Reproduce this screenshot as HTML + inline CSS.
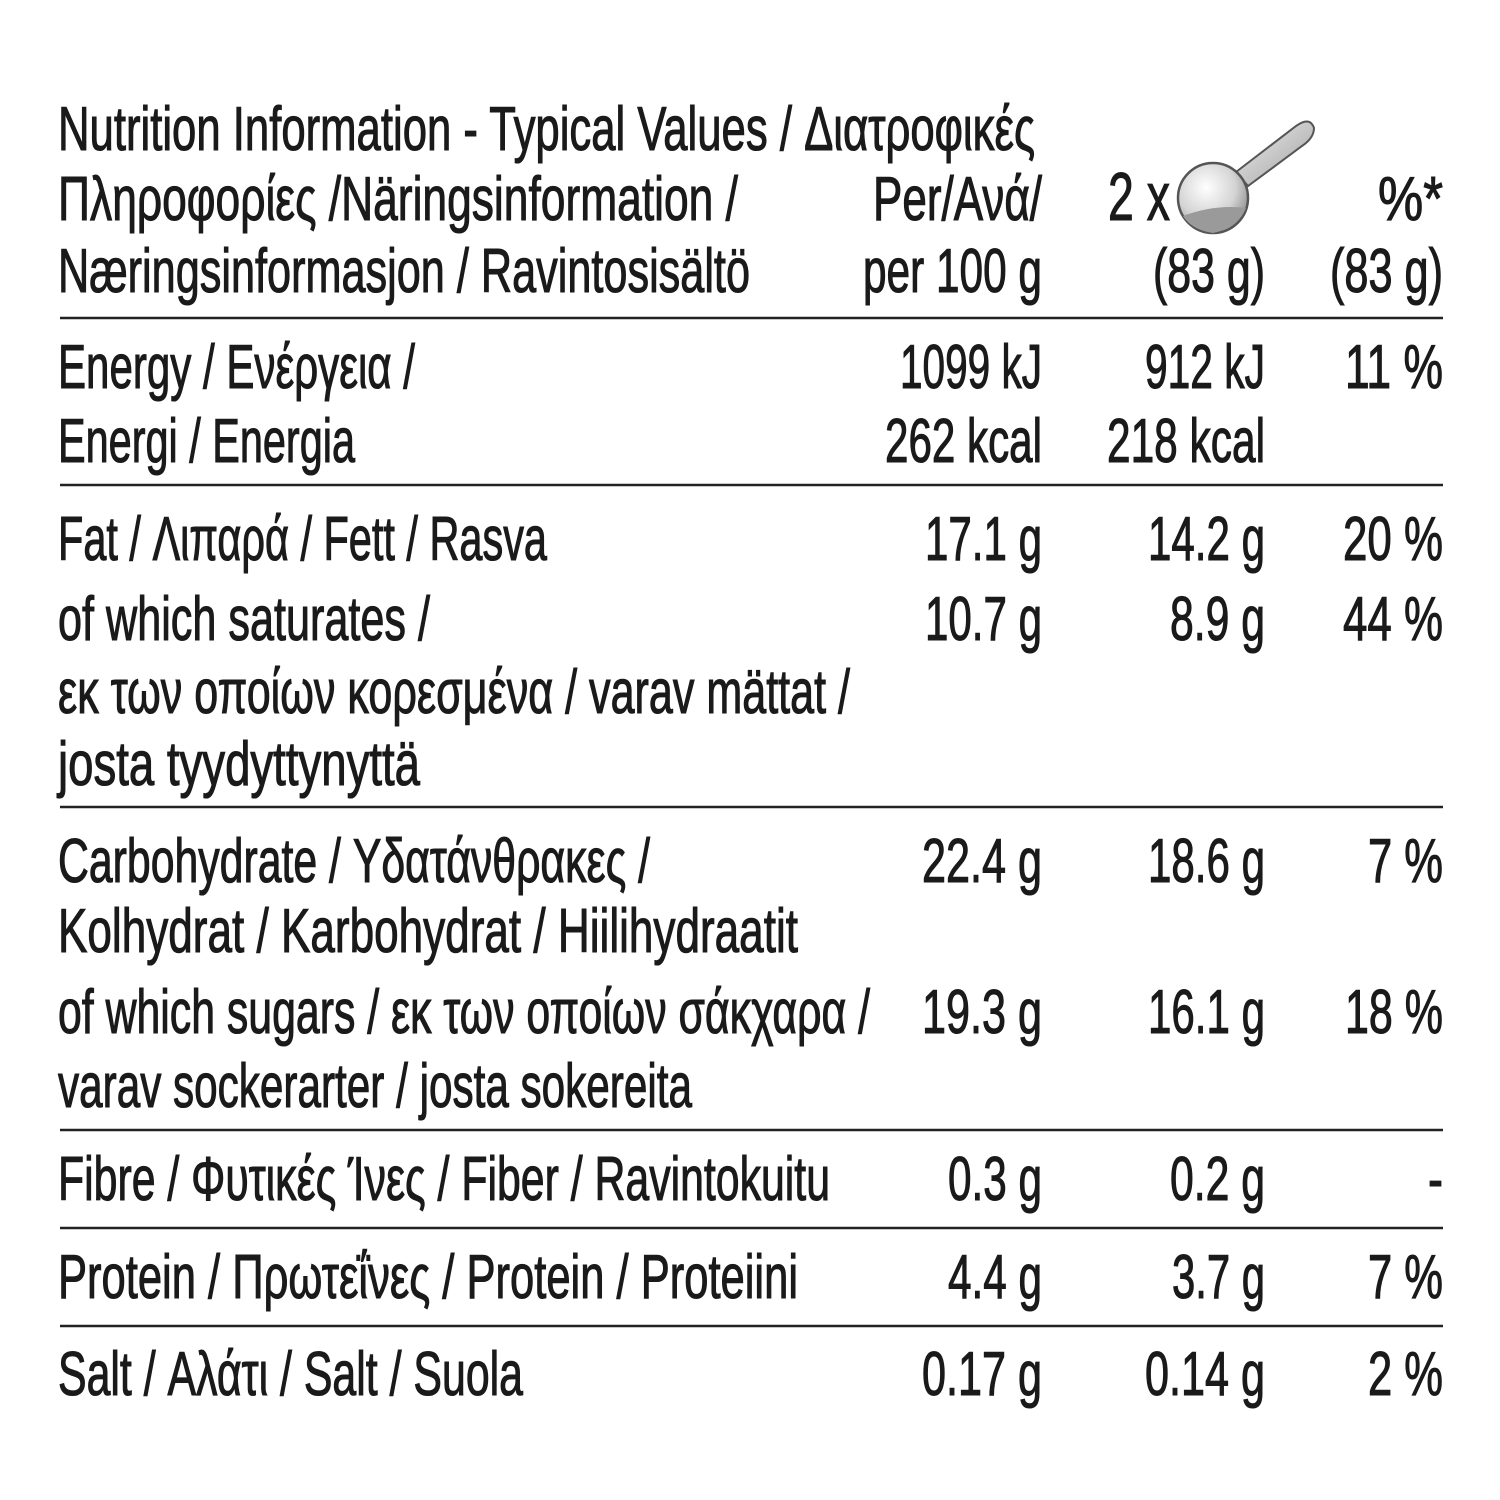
<!DOCTYPE html>
<html><head><meta charset="utf-8"><style>html,body{margin:0;padding:0;background:#fff}svg{display:block}</style></head>
<body>
<svg width="1500" height="1500" viewBox="0 0 1500 1500" xmlns="http://www.w3.org/2000/svg">
<defs>
<radialGradient id="bowl" cx="0.4" cy="0.35" r="0.7">
<stop offset="0" stop-color="#ffffff"/><stop offset="0.6" stop-color="#d4d4d4"/><stop offset="1" stop-color="#8a8a8a"/>
</radialGradient>
<linearGradient id="hnd" x1="0" y1="0" x2="1" y2="1"><stop offset="0" stop-color="#eeeeee"/><stop offset="1" stop-color="#a0a0a0"/></linearGradient>
</defs>
<g font-family="'Liberation Sans','DejaVu Sans',sans-serif" font-size="62" fill="#1a1a1a" stroke="#1a1a1a" stroke-width="1.1">
<text x="58" y="150" textLength="977" lengthAdjust="spacingAndGlyphs">Nutrition Information - Typical Values / Διατροφικές</text>
<text x="58" y="220" textLength="680" lengthAdjust="spacingAndGlyphs">Πληροφορίες /Näringsinformation /</text>
<text x="58" y="292" textLength="692" lengthAdjust="spacingAndGlyphs">Næringsinformasjon / Ravintosisältö</text>
<text x="873" y="220" textLength="169" lengthAdjust="spacingAndGlyphs">Per/Ανά/</text>
<text x="863" y="292" textLength="179" lengthAdjust="spacingAndGlyphs">per 100 g</text>
<text x="1108" y="220" textLength="62" lengthAdjust="spacingAndGlyphs" font-size="68">2 x</text>
<text x="1378" y="220" textLength="65" lengthAdjust="spacingAndGlyphs">%*</text>
<text x="1153" y="292" textLength="112" lengthAdjust="spacingAndGlyphs">(83 g)</text>
<text x="1330" y="292" textLength="113" lengthAdjust="spacingAndGlyphs">(83 g)</text>

<text x="58" y="388" textLength="357" lengthAdjust="spacingAndGlyphs">Energy / Ενέργεια /</text>
<text x="58" y="462" textLength="297" lengthAdjust="spacingAndGlyphs">Energi / Energia</text>
<text x="900" y="388" textLength="142" lengthAdjust="spacingAndGlyphs">1099 kJ</text>
<text x="885" y="462" textLength="157" lengthAdjust="spacingAndGlyphs">262 kcal</text>
<text x="1145" y="388" textLength="120" lengthAdjust="spacingAndGlyphs">912 kJ</text>
<text x="1107" y="462" textLength="158" lengthAdjust="spacingAndGlyphs">218 kcal</text>
<text x="1345" y="388" textLength="98" lengthAdjust="spacingAndGlyphs">11 %</text>

<text x="58" y="560" textLength="489" lengthAdjust="spacingAndGlyphs">Fat / Λιπαρά / Fett / Rasva</text>
<text x="925" y="560" textLength="117" lengthAdjust="spacingAndGlyphs">17.1 g</text>
<text x="1148" y="560" textLength="117" lengthAdjust="spacingAndGlyphs">14.2 g</text>
<text x="1343" y="560" textLength="100" lengthAdjust="spacingAndGlyphs">20 %</text>
<text x="58" y="640" textLength="372" lengthAdjust="spacingAndGlyphs">of which saturates /</text>
<text x="925" y="640" textLength="117" lengthAdjust="spacingAndGlyphs">10.7 g</text>
<text x="1170" y="640" textLength="95" lengthAdjust="spacingAndGlyphs">8.9 g</text>
<text x="1343" y="640" textLength="100" lengthAdjust="spacingAndGlyphs">44 %</text>
<text x="58" y="713" textLength="792" lengthAdjust="spacingAndGlyphs">εκ των οποίων κορεσμένα / varav mättat /</text>
<text x="58" y="785" textLength="362" lengthAdjust="spacingAndGlyphs">josta tyydyttynyttä</text>

<text x="58" y="882" textLength="592" lengthAdjust="spacingAndGlyphs">Carbohydrate / Υδατάνθρακες /</text>
<text x="922" y="882" textLength="120" lengthAdjust="spacingAndGlyphs">22.4 g</text>
<text x="1148" y="882" textLength="117" lengthAdjust="spacingAndGlyphs">18.6 g</text>
<text x="1368" y="882" textLength="75" lengthAdjust="spacingAndGlyphs">7 %</text>
<text x="58" y="952" textLength="740" lengthAdjust="spacingAndGlyphs">Kolhydrat / Karbohydrat / Hiilihydraatit</text>
<text x="58" y="1033" textLength="812" lengthAdjust="spacingAndGlyphs">of which sugars / εκ των οποίων σάκχαρα /</text>
<text x="922" y="1033" textLength="120" lengthAdjust="spacingAndGlyphs">19.3 g</text>
<text x="1148" y="1033" textLength="117" lengthAdjust="spacingAndGlyphs">16.1 g</text>
<text x="1345" y="1033" textLength="98" lengthAdjust="spacingAndGlyphs">18 %</text>
<text x="58" y="1107" textLength="634" lengthAdjust="spacingAndGlyphs">varav sockerarter / josta sokereita</text>

<text x="58" y="1200" textLength="772" lengthAdjust="spacingAndGlyphs">Fibre / Φυτικές Ίνες / Fiber / Ravintokuitu</text>
<text x="948" y="1200" textLength="94" lengthAdjust="spacingAndGlyphs">0.3 g</text>
<text x="1170" y="1200" textLength="95" lengthAdjust="spacingAndGlyphs">0.2 g</text>
<text x="1428" y="1200" textLength="15" lengthAdjust="spacingAndGlyphs">-</text>

<text x="58" y="1298" textLength="740" lengthAdjust="spacingAndGlyphs">Protein / Πρωτεΐνες / Protein / Proteiini</text>
<text x="948" y="1298" textLength="94" lengthAdjust="spacingAndGlyphs">4.4 g</text>
<text x="1172" y="1298" textLength="93" lengthAdjust="spacingAndGlyphs">3.7 g</text>
<text x="1368" y="1298" textLength="75" lengthAdjust="spacingAndGlyphs">7 %</text>

<text x="58" y="1395" textLength="465" lengthAdjust="spacingAndGlyphs">Salt / Αλάτι / Salt / Suola</text>
<text x="922" y="1395" textLength="120" lengthAdjust="spacingAndGlyphs">0.17 g</text>
<text x="1145" y="1395" textLength="120" lengthAdjust="spacingAndGlyphs">0.14 g</text>
<text x="1368" y="1395" textLength="75" lengthAdjust="spacingAndGlyphs">2 %</text>
</g>
<g stroke="#222" stroke-width="2.5">
<line x1="60" y1="318" x2="1443" y2="318"/>
<line x1="60" y1="485" x2="1443" y2="485"/>
<line x1="60" y1="807" x2="1443" y2="807"/>
<line x1="60" y1="1130" x2="1443" y2="1130"/>
<line x1="60" y1="1228" x2="1443" y2="1228"/>
<line x1="60" y1="1326" x2="1443" y2="1326"/>
</g>
<g>
<path d="M1236 172 L1296 126 Q1310 116 1314 128 Q1314 138 1302 146 L1248 186 Z" fill="url(#hnd)" stroke="#555" stroke-width="2"/>
<circle cx="1213" cy="198" r="35" fill="url(#bowl)" stroke="#555" stroke-width="2.5"/>
<path d="M1183 216 Q1215 204 1246 208 Q1238 228 1213 233 Q1192 230 1183 216 Z" fill="#9a9a9a"/>
</g>
</svg>
</body></html>
